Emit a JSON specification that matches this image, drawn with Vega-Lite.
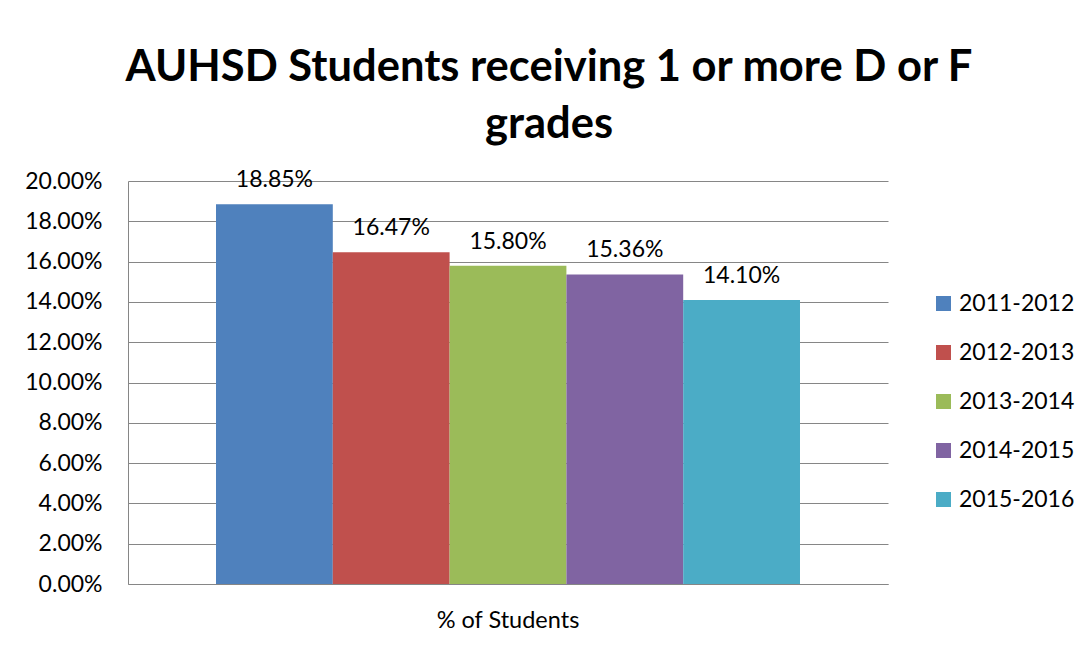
{
  "$schema": "https://vega.github.io/schema/vega-lite/v6.json",
  "width": 760,
  "height": 403,
  "autosize": {"type": "none"},
  "padding": {"left": 128, "top": 181, "right": 201, "bottom": 64},
  "background": "white",
  "title": {
    "text": ["AUHSD Students receiving 1 or more D or F", "grades"],
    "font": "Lato",
    "fontSize": 43.5,
    "fontWeight": "bold",
    "color": "black",
    "anchor": "middle",
    "frame": "group",
    "dx": 41,
    "offset": 22,
    "lineHeight": 57
  },
  "config": {"view": {"stroke": null}, "font": "Lato"},
  "data": {
    "values": [
      {"category": "% of Students", "year": "2011-2012", "pct": 0.1885},
      {"category": "% of Students", "year": "2012-2013", "pct": 0.1647},
      {"category": "% of Students", "year": "2013-2014", "pct": 0.158},
      {"category": "% of Students", "year": "2014-2015", "pct": 0.1536},
      {"category": "% of Students", "year": "2015-2016", "pct": 0.141}
    ]
  },
  "encoding": {
    "x": {
      "field": "category",
      "type": "nominal",
      "scale": {"paddingInner": 0, "paddingOuter": 0.1507},
      "axis": {
        "title": null,
        "labelAngle": 0,
        "ticks": false,
        "domainColor": "#868686",
        "labelFontSize": 23.5,
        "labelColor": "black",
        "labelPadding": 24,
        "labelFont": "Lato"
      }
    },
    "xOffset": {
      "field": "year",
      "type": "nominal",
      "scale": {"paddingInner": 0, "paddingOuter": 0}
    },
    "y": {
      "field": "pct",
      "type": "quantitative",
      "scale": {"domain": [0, 0.2], "nice": false},
      "axis": {
        "title": null,
        "values": [0, 0.02, 0.04, 0.06, 0.08, 0.1, 0.12, 0.14, 0.16, 0.18, 0.2],
        "format": ".2%",
        "grid": true,
        "gridColor": "#868686",
        "gridOpacity": 1,
        "domainColor": "#868686",
        "ticks": false,
        "labelPadding": 26,
        "labelFontSize": 23,
        "labelColor": "black",
        "labelFont": "Lato"
      }
    }
  },
  "layer": [
    {
      "mark": {"type": "bar"},
      "encoding": {
        "color": {
          "field": "year",
          "type": "nominal",
          "scale": {
            "domain": ["2011-2012", "2012-2013", "2013-2014", "2014-2015", "2015-2016"],
            "range": ["#4F81BD", "#C0504D", "#9BBB59", "#8064A2", "#4BACC6"]
          },
          "legend": {
            "orient": "none",
            "legendX": 804,
            "legendY": 111,
            "title": null,
            "symbolType": "square",
            "symbolSize": 225,
            "symbolStrokeWidth": 0,
            "labelFontSize": 23,
            "labelColor": "black",
            "labelFont": "Lato",
            "rowPadding": 25,
            "labelOffset": 4
          }
        }
      }
    },
    {
      "mark": {"type": "text", "dy": -24, "fontSize": 23, "color": "black", "baseline": "middle", "font": "Lato"},
      "encoding": {"text": {"field": "pct", "type": "quantitative", "format": ".2%"}}
    }
  ]
}
